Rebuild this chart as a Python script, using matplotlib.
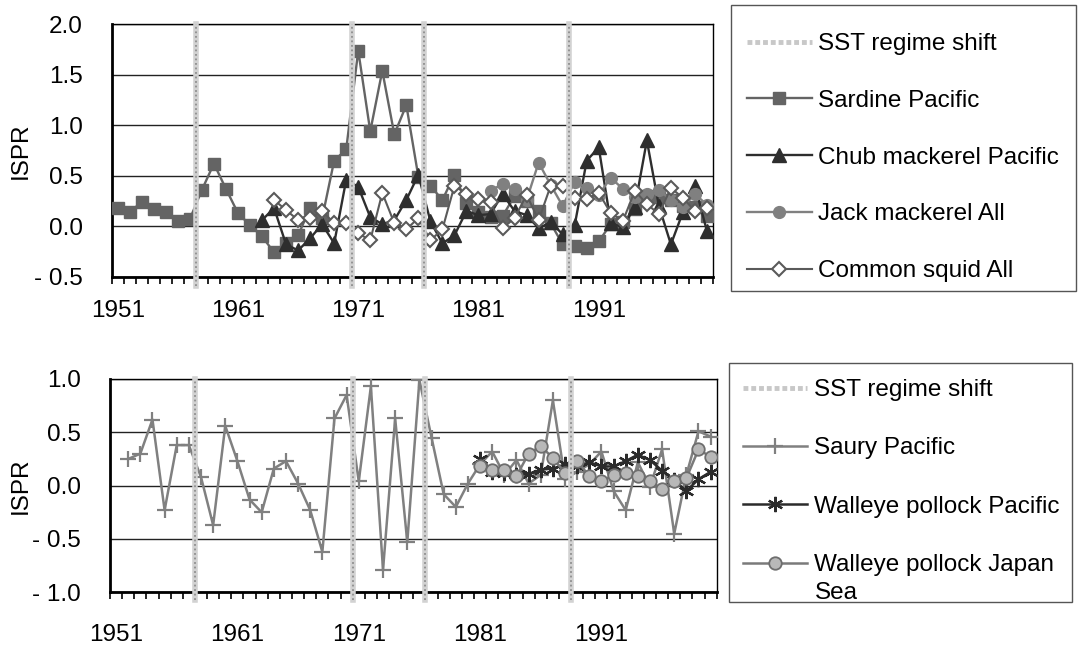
import numpy as np
import matplotlib.pyplot as plt
from matplotlib.lines import Line2D
from matplotlib.patches import Rectangle

plt.rcParams['font.family'] = ['Liberation Sans', 'DejaVu Sans']

FS = 17.5
W, H = 1078, 655
nan = np.nan

years = np.arange(1951, 2001)
year_labels = [1951, 1961, 1971, 1981, 1991]
regime_shifts = [1957.5, 1970.5, 1976.5, 1988.5]

# --- upper panel series (ISPR) ---
sardine_pacific = [0.18, 0.14, 0.24, 0.17, 0.14, 0.05, 0.07, 0.36, 0.62, 0.37,
                   0.13, 0.01, -0.10, -0.26, -0.17, -0.09, 0.18, 0.08, 0.65, 0.76,
                   1.74, 0.94, 1.54, 0.91, 1.20, 0.49, 0.40, 0.26, 0.51, 0.23,
                   0.14, 0.09, 0.10, 0.30, 0.25, 0.15, 0.03, -0.18, -0.20, -0.22,
                   -0.15, 0.02, 0.04, 0.17, 0.30, 0.29, 0.26, 0.20, 0.19, 0.10]
chub_mackerel_pacific = [nan] * 12 + [
                   0.06, 0.18, -0.18, -0.24, -0.12, 0.02, -0.17, 0.46,
                   0.39, 0.09, 0.02, 0.06, 0.26, 0.51, 0.05, -0.17, -0.09, 0.15,
                   0.11, 0.12, 0.32, 0.15, 0.11, -0.02, 0.04, -0.08, 0.01, 0.65,
                   0.78, 0.03, -0.01, 0.19, 0.85, 0.20, -0.18, 0.14, 0.40, -0.05]
jack_mackerel_all = [nan] * 31 + [
                   0.35, 0.42, 0.37, 0.26, 0.63, 0.41, 0.20, 0.44, 0.38,
                   0.31, 0.48, 0.37, 0.29, 0.32, 0.36, 0.26, 0.19, 0.32, 0.21]
common_squid_all = [nan] * 13 + [
                   0.26, 0.16, 0.06, 0.08, 0.15, 0.03, 0.03,
                   -0.07, -0.14, 0.33, 0.03, -0.03, 0.08, -0.14, -0.03, 0.40, 0.32,
                   0.27, 0.24, -0.02, 0.08, 0.31, 0.06, 0.40, 0.40, 0.28, 0.27,
                   0.33, 0.13, 0.05, 0.35, 0.22, 0.12, 0.38, 0.28, 0.15, 0.18]

# --- lower panel series (ISPR) ---
saury_pacific = [nan,
                 0.25, 0.30, 0.62, -0.23, 0.38, 0.38, 0.08, -0.37, 0.56,
                 0.23, -0.13, -0.25, 0.16, 0.23, 0.02, -0.23, -0.62, 0.63, 0.85,
                 0.04, 0.93, -0.79, 0.63, -0.53, 0.99, 0.45, -0.08, -0.20, 0.02,
                 0.20, 0.32, 0.10, 0.24, 0.02, 0.10, 0.80, 0.06, 0.13, 0.20,
                 0.32, -0.05, -0.23, 0.22, -0.01, 0.34, -0.45, 0.10, 0.51, 0.46]
walleye_pollock_pacific = [nan] * 30 + [
                 0.25, 0.13, 0.12, 0.10, 0.11, 0.15, 0.16, 0.20, 0.18, 0.22,
                 0.18, 0.18, 0.23, 0.29, 0.24, 0.14, 0.05, -0.05, 0.06, 0.13]
walleye_pollock_japan_sea = [nan] * 30 + [
                 0.18, 0.15, 0.15, 0.09, 0.30, 0.37, 0.26, 0.12, 0.23, 0.09,
                 0.04, 0.10, 0.12, 0.09, 0.04, -0.03, 0.04, 0.07, 0.34, 0.27]

top_yticks = [-0.5, 0.0, 0.5, 1.0, 1.5, 2.0]
top_ylabels = ['- 0.5', '0.0', '0.5', '1.0', '1.5', '2.0']
bot_yticks = [-1.0, -0.5, 0.0, 0.5, 1.0]
bot_ylabels = ['- 1.0', '- 0.5', '0.0', '0.5', '1.0']


def px_rect(x0, y0, x1, y1):
    # pixel box (top-left origin) -> figure fraction [left, bottom, width, height]
    return [x0 / W, 1 - y1 / H, (x1 - x0) / W, (y1 - y0) / H]


def style_axis(ax, yticks, ylabels, xpad, label_x):
    ax.set_xlim(1950.5, 2000.5)
    ax.set_ylim(yticks[0], yticks[-1])
    ax.set_yticks(yticks)
    ax.set_yticklabels(ylabels)
    ax.yaxis.grid(True, color='#222222', lw=1.0)
    ax.set_axisbelow(True)
    ax.tick_params(axis='y', length=0, pad=21, labelsize=FS)
    ax.set_xticks(year_labels)
    ax.set_xticklabels([str(y) for y in year_labels])
    ax.set_xticks(np.arange(1950.5, 2001), minor=True)
    ax.tick_params(axis='x', which='major', length=0, pad=xpad, labelsize=FS)
    ax.tick_params(axis='x', which='minor', length=5, width=1.2, direction='out')
    for side in ['top', 'right']:
        ax.spines[side].set_linewidth(1.0)
    for side in ['bottom', 'left']:
        ax.spines[side].set_linewidth(2.0)
    ax.set_ylabel('ISPR', fontsize=FS)
    ax.yaxis.set_label_coords(label_x, 0.5)
    # regime shift markers, stippled grey band
    for x in regime_shifts:
        ax.axvline(x, ymin=-0.035, ymax=1, color='#d2d2d2', lw=4,
                   clip_on=False, zorder=5)
        ax.axvline(x, ymin=-0.035, ymax=1, color='#8e8e8e', lw=1.3,
                   ls=(0, (1, 1.5)), clip_on=False, zorder=6)


def legend_box(fig, x0, y0, x1, y1):
    fig.add_artist(Rectangle((x0 / W, 1 - y1 / H), (x1 - x0) / W, (y1 - y0) / H,
                             transform=fig.transFigure, fill=False,
                             ec='#555555', lw=1.0))


sst_handle = Line2D([], [], color='#c8c8c8', lw=3.5, ls=(0, (1, 0.6)))

fig = plt.figure(figsize=(W / 100, H / 100), dpi=100)

##### upper panel
ax1 = fig.add_axes(px_rect(111.7, 24.3, 713, 276.7))
h1 = ax1.plot(years, sardine_pacific, '-s', color='#646464', lw=1.7,
              ms=8.5, mec='#646464', label='Sardine Pacific', zorder=3)
h2 = ax1.plot(years, chub_mackerel_pacific, '-^', color='#2e2e2e', lw=1.7,
              ms=9.5, label='Chub mackerel Pacific', zorder=3)
h3 = ax1.plot(years, jack_mackerel_all, '-o', color='#808080', lw=1.7,
              ms=8.5, label='Jack mackerel All', zorder=3)
h4 = ax1.plot(years, common_squid_all, '-D', color='#5a5a5a', lw=1.5,
              ms=7, mfc='white', mec='#5a5a5a', mew=1.5,
              label='Common squid All', zorder=4)
style_axis(ax1, top_yticks, top_ylabels, 17, (32 - 111.7) / 601.3)

legend_box(fig, 730.7, 5, 1075.7, 291)
fig.legend([sst_handle, h1[0], h2[0], h3[0], h4[0]],
           ['SST regime shift', 'Sardine Pacific', 'Chub mackerel Pacific',
            'Jack mackerel All', 'Common squid All'],
           loc='upper left', bbox_to_anchor=(746.7 / W, 1 - 33 / H),
           frameon=False, fontsize=FS, handlelength=2.67, handletextpad=0.28,
           labelspacing=1.43, borderpad=0, borderaxespad=0)

##### lower panel
ax2 = fig.add_axes(px_rect(110, 379, 716.7, 592.3))
g1 = ax2.plot(years, saury_pacific, '-+', color='#808080', lw=1.8,
              ms=12, mew=1.6, label='Saury Pacific', zorder=3)
g2 = ax2.plot(years, walleye_pollock_pacific, '-', marker=(6, 2, 0),
              color='#2b2b2b', lw=1.8, ms=11, mew=1.6,
              label='Walleye pollock Pacific', zorder=3)
g3 = ax2.plot(years, walleye_pollock_japan_sea, '-o', color='#7a7a7a', lw=1.8,
              ms=9, mfc='#b8b8b8', mec='#6e6e6e', mew=1.3,
              label='Walleye pollock Japan Sea', zorder=4)
style_axis(ax2, bot_yticks, bot_ylabels, 23, (32 - 110) / 606.7)

legend_box(fig, 729.3, 363.3, 1072.3, 601.7)
fig.legend([sst_handle, g1[0], g2[0], g3[0]],
           ['SST regime shift', 'Saury Pacific', 'Walleye pollock Pacific',
            'Walleye pollock Japan'],
           loc='upper left', bbox_to_anchor=(742.5 / W, 1 - 379 / H),
           frameon=False, fontsize=FS, handlelength=2.67, handletextpad=0.28,
           labelspacing=1.5, borderpad=0, borderaxespad=0)
fig.text(815 / W, 1 - 593 / H, 'Sea', fontsize=FS, va='center', ha='left')

fig.savefig('out.png', dpi=100)
